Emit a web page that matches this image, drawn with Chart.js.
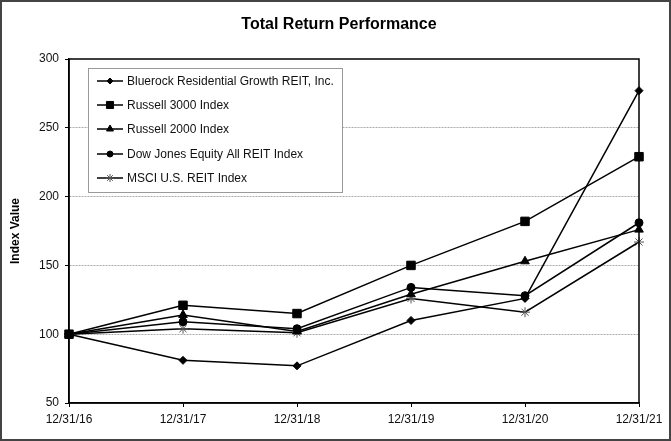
<!DOCTYPE html>
<html>
<head>
<meta charset="utf-8">
<script src="https://cdn.jsdelivr.net/npm/chart.js@4.4.0/dist/chart.umd.min.js"></script>
<style>
    body { margin: 0; background: #fff; }
    canvas { display: block; }
</style>
</head>
<body>
<canvas id="perfChart" width="671" height="441"></canvas>
<script>
const labels = ['12/31/16', '12/31/17', '12/31/18', '12/31/19', '12/31/20', '12/31/21'];
const seriesNames = [
    'Bluerock Residential Growth REIT, Inc.',
    'Russell 3000 Index',
    'Russell 2000 Index',
    'Dow Jones Equity All REIT Index',
    'MSCI U.S. REIT Index'
];
const bluerock = [100, 81, 77, 110, 126, 277];
const russell3000 = [100, 121, 115, 150, 182, 229];
const russell2000 = [100, 114, 102, 129, 153, 176];
const dowJones = [100, 109, 104, 134, 128, 181];
const msciReit = [100, 104, 101, 126, 116, 167];
const yTicks = [50, 100, 150, 200, 250, 300];
const chartTitle = 'Total Return Performance';

const FONT = "'Liberation Sans', Arial, sans-serif";
Chart.defaults.font.family = FONT;
Chart.defaults.color = '#111';

const markers = [
    { style: 'rectRot', r: 4, color: '#000', order: 0 },
    { style: 'rect', r: 6, color: '#000', order: -1 },
    { style: 'triangle', r: 5, color: '#000', order: 0 },
    { style: 'circle', r: 4, color: '#000', order: 0 },
    { style: 'star', r: 5, color: '#555', order: 0 }
];

function makeSet(i, data) {
    const m = markers[i];
    return {
        label: seriesNames[i],
        data: data,
        order: m.order,
        borderColor: '#000',
        borderWidth: 1.5,
        pointStyle: m.style,
        pointRadius: m.r,
        pointHoverRadius: m.r,
        pointBackgroundColor: m.color,
        pointBorderColor: m.color,
        pointBorderWidth: 1,
        tension: 0,
        fill: false
    };
}

// title, box around the plot, frame around the picture, legend inside the plot
const framePlugin = {
    id: 'frame',
    beforeDraw(chart) {
        const c = chart.ctx;
        c.save();
        c.fillStyle = '#fff';
        c.fillRect(0, 0, chart.width, chart.height);
        c.fillStyle = '#000';
        c.font = 'bold 16px ' + FONT;
        c.textAlign = 'center';
        c.textBaseline = 'middle';
        c.fillText(chartTitle, 339, 25);
        c.restore();
    },
    afterDraw(chart) {
        const c = chart.ctx, a = chart.chartArea;
        c.save();
        c.strokeStyle = '#000';
        c.lineWidth = 1.5;
        c.strokeRect(a.left, a.top, a.right - a.left, a.bottom - a.top);

        c.strokeStyle = '#444';
        c.lineWidth = 2;
        c.strokeRect(1, 1, chart.width - 2, chart.height - 2);

        // legend
        const lx = 88, ly = 68, lw = 254, lh = 124;
        c.fillStyle = '#fff';
        c.fillRect(lx, ly, lw, lh);
        c.strokeStyle = '#999';
        c.lineWidth = 1;
        c.strokeRect(lx + 0.5, ly + 0.5, lw, lh);

        const rows = [81, 105, 129, 154, 178];
        c.font = '12px ' + FONT;
        c.textBaseline = 'middle';
        c.textAlign = 'left';
        seriesNames.forEach((name, i) => {
            const y = rows[i];
            c.strokeStyle = '#000';
            c.lineWidth = 1.5;
            c.beginPath();
            c.moveTo(97, y);
            c.lineTo(123, y);
            c.stroke();
            const m = markers[i];
            c.fillStyle = m.color;
            c.strokeStyle = m.color;
            c.lineWidth = 1;
            Chart.helpers.drawPoint(c, { pointStyle: m.style, radius: m.r - 1, borderWidth: 1, rotation: 0 }, 110, y);
            c.fillStyle = '#111';
            c.fillText(name, 127, y + 1);
        });
        c.restore();
    }
};

new Chart(document.getElementById('perfChart'), {
    type: 'line',
    data: {
        labels: labels,
        datasets: [
            makeSet(0, bluerock),
            makeSet(1, russell3000),
            makeSet(2, russell2000),
            makeSet(3, dowJones),
            makeSet(4, msciReit)
        ]
    },
    options: {
        responsive: false,
        animation: false,
        layout: { padding: { left: 0, right: 32, top: 59, bottom: 0 } },
        plugins: {
            legend: { display: false },
            tooltip: { enabled: false },
            title: { display: false }
        },
        scales: {
            x: {
                offset: false,
                border: { display: true, color: '#000', width: 1.5 },
                grid: { drawOnChartArea: false, drawTicks: true, tickLength: 4, tickColor: '#000' },
                ticks: { maxRotation: 0, autoSkip: false, padding: 5, color: '#111', font: { size: 12 } },
                afterFit(scale) { scale.height = 38; }
            },
            y: {
                min: 50,
                max: 300,
                afterBuildTicks(scale) { scale.ticks = yTicks.map(v => ({ value: v })); },
                border: { display: true, color: '#000', width: 1.5, dash: [2, 1] },
                grid: {
                    color: (ctx) => (ctx.tick && (ctx.tick.value === 50 || ctx.tick.value === 300)) ? 'rgba(0,0,0,0)' : '#aaa',
                    lineWidth: 1,
                    tickLength: 4,
                    tickColor: '#000',
                    tickBorderDash: []
                },
                ticks: { padding: 6, color: '#111', font: { size: 12 } },
                title: {
                    display: true,
                    text: 'Index Value',
                    color: '#000',
                    font: { size: 12, weight: 'bold', family: FONT },
                    padding: { top: 8, bottom: 0 }
                },
                afterFit(scale) { scale.width = 69; }
            }
        }
    },
    plugins: [framePlugin]
});
</script>
</body>
</html>
